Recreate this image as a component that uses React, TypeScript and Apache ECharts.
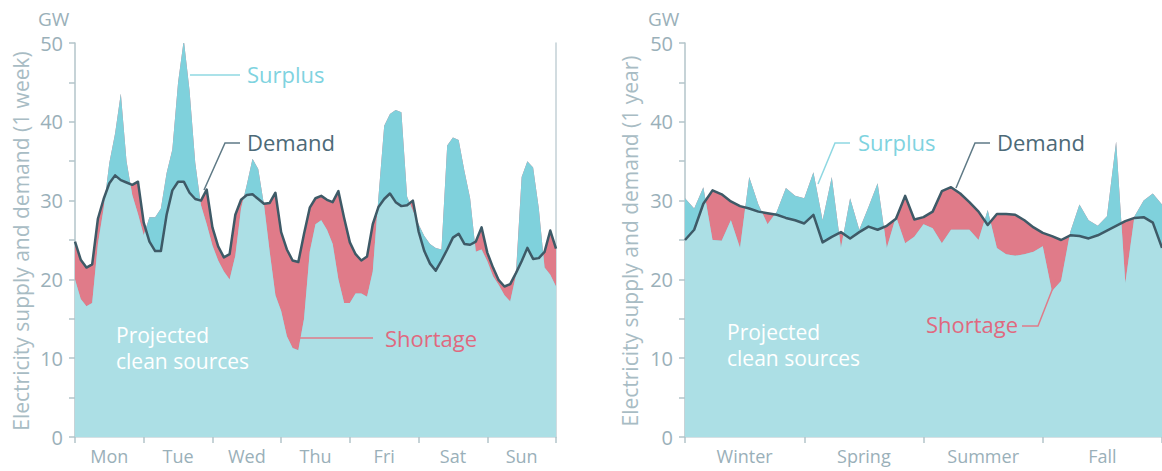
import React, { useEffect, useRef } from "react";
import * as echarts from "echarts";

// ---------- data ----------
const weekDays = ["Mon", "Tue", "Wed", "Thu", "Fri", "Sat", "Sun"];
const seasons = ["Winter", "Spring", "Summer", "Fall"];

// one sample every 2 hours, Mon 00:00 .. Sun 24:00 (85 samples)
const WEEK_STEP_HOURS = 2;
const weekDemand = [
  24.8, 22.5, 21.5, 21.9, 27.7, 30.2, 32.2, 33.2, 32.6, 32.3, 32.0, 32.4,
  27.2, 24.8, 23.6, 23.6, 28.2, 31.3, 32.4, 32.4, 31.0, 30.2, 30.0, 31.4,
  26.6, 24.2, 22.8, 23.2, 28.2, 30.1, 30.7, 30.8, 30.2, 29.6, 29.7, 31.0,
  26.0, 23.8, 22.4, 22.2, 25.8, 29.1, 30.3, 30.6, 30.1, 29.8, 31.2, 27.8,
  24.7, 23.2, 22.4, 22.9, 27.0, 29.2, 30.2, 30.9, 29.8, 29.3, 29.4, 30.0,
  26.1, 23.6, 22.0, 21.1, 22.4, 23.8, 25.3, 25.8, 24.5, 24.4, 24.8, 26.6,
  23.4, 21.5, 19.9, 19.1, 19.4, 20.8, 22.3, 24.0, 22.6, 22.7, 23.5, 26.2,
  23.9,
];
const weekSupply = [
  20.0, 17.5, 16.6, 17.0, 24.5, 29.0, 34.8, 38.5, 43.6, 35.0, 30.7, 28.3,
  25.6, 27.9, 27.9, 29.0, 33.5, 36.5, 45.0, 50.4, 44.0, 34.8, 29.4, 27.0,
  24.3, 22.4, 21.0, 20.0, 23.0, 29.0, 32.0, 35.3, 34.0, 29.5, 23.5, 18.0,
  16.0, 12.8, 11.3, 11.0, 15.0, 23.5, 27.0, 27.5, 26.3, 24.5, 20.0, 17.0,
  17.0, 18.2, 18.2, 17.8, 21.0, 30.5, 39.5, 41.0, 41.5, 41.2, 30.5, 28.7,
  27.0, 25.5, 24.5, 24.0, 23.8, 37.0, 38.0, 37.7, 33.8, 30.3, 23.5, 23.8,
  22.3, 20.4, 19.3, 18.0, 17.2, 20.5, 33.0, 35.0, 34.2, 29.0, 21.5, 20.6,
  19.1,
];

// one sample per week (53 samples)
const YEAR_STEP_WEEKS = 1;
const yearDemand = [
  25.0, 26.3, 29.6, 31.3, 30.8, 29.9, 29.3, 29.0, 28.6, 28.4, 28.2, 27.8, 27.5,
  27.1, 28.2, 24.7, 25.4, 26.0, 25.2, 26.0, 26.7, 26.3, 26.8, 27.7, 30.6, 27.6,
  27.9, 28.6, 31.2, 31.7, 30.9, 29.8, 28.6, 26.9, 28.3, 28.3, 28.2, 27.5, 26.6,
  25.9, 25.5, 25.0, 25.6, 25.5, 25.2, 25.6, 26.2, 26.8, 27.4, 27.8, 27.9, 27.2,
  24.0,
];
const yearSupply = [
  30.3, 29.0, 31.7, 25.0, 24.9, 27.5, 24.0, 33.0, 29.5, 27.0, 28.6, 31.6, 30.6,
  30.3, 33.6, 27.5, 33.0, 24.0, 30.3, 26.3, 29.2, 32.2, 24.0, 28.0, 24.6, 25.4,
  27.0, 26.5, 24.6, 26.3, 26.3, 26.3, 25.0, 28.8, 24.0, 23.2, 23.0, 23.2, 23.5,
  24.2, 18.5, 19.8, 26.0, 29.5, 27.5, 26.8, 28.0, 37.5, 19.5, 28.0, 30.0, 30.9,
  29.5,
];

// ---------- styling ----------
const FONT = '"Open Sans", "Noto Sans", sans-serif';
const C_CLEAN = "#acdfe5";
const C_SURPLUS = "#7fd1dc";
const C_SHORT = "#e07b89";
const C_DEMAND = "#3e5a67";
const C_AXIS_TEXT = "#9ab0b9";
const C_AXIS_LINE = "#b3c4ca";
const C_NAME = "#a8bcc4";

function bands(xs: number[], s: number[], d: number[]) {
  const pts: number[][] = [];
  for (let i = 0; i < xs.length; i++) {
    pts.push([xs[i], s[i], d[i]]);
    if (i < xs.length - 1) {
      const a = s[i] - d[i];
      const b = s[i + 1] - d[i + 1];
      if (a * b < 0) {
        const t = a / (a - b);
        const x = xs[i] + t * (xs[i + 1] - xs[i]);
        const v = s[i] + t * (s[i + 1] - s[i]);
        pts.push([x, v, v]);
      }
    }
  }
  return {
    top: pts.map((p) => [p[0], Math.max(p[1], p[2])]),
    supply: pts.map((p) => [p[0], p[1]]),
    low: pts.map((p) => [p[0], Math.min(p[1], p[2])]),
  };
}

function areaSeries(data: number[][], color: string, xi: number, yi: number) {
  return {
    type: "line",
    xAxisIndex: xi,
    yAxisIndex: yi,
    data,
    symbol: "none",
    showSymbol: false,
    silent: true,
    lineStyle: { width: 0, opacity: 0 },
    areaStyle: { color, opacity: 1 },
  };
}

function chartSeries(step: number, s: number[], d: number[], xi: number, yi: number) {
  const xs = d.map((_, i) => i * step);
  const b = bands(xs, s, d);
  return [
    areaSeries(b.top, C_SHORT, xi, yi),
    areaSeries(b.supply, C_SURPLUS, xi, yi),
    areaSeries(b.low, C_CLEAN, xi, yi),
    {
      type: "line",
      xAxisIndex: xi,
      yAxisIndex: yi,
      data: xs.map((x, i) => [x, d[i]]),
      symbol: "none",
      showSymbol: false,
      silent: true,
      lineStyle: { color: C_DEMAND, width: 2.5, join: "round" },
    },
  ];
}

function valueX(gridIndex: number, max: number, interval: number) {
  return {
    type: "value",
    gridIndex,
    min: 0,
    max,
    interval,
    position: "bottom",
    axisLine: { show: true, lineStyle: { color: "#c9d6db", width: 1.5 } },
    axisTick: { show: true, length: 6, lineStyle: { color: C_AXIS_LINE, width: 1.5 } },
    axisLabel: { show: false },
    splitLine: { show: false },
  };
}

function catX(gridIndex: number, data: string[]) {
  return {
    type: "category",
    gridIndex,
    data,
    position: "bottom",
    boundaryGap: true,
    axisLine: { show: false },
    axisTick: { show: false },
    axisLabel: { color: C_AXIS_TEXT, fontSize: 18, fontFamily: FONT, margin: 10 },
    splitLine: { show: false },
  };
}

function leftY(gridIndex: number) {
  return {
    type: "value",
    gridIndex,
    min: 0,
    max: 50,
    interval: 5,
    position: "left",
    axisLine: { show: true, lineStyle: { color: C_AXIS_LINE, width: 1.5 } },
    axisTick: { show: true, length: 6, lineStyle: { color: C_AXIS_LINE, width: 1.5 } },
    axisLabel: {
      color: C_AXIS_TEXT,
      fontSize: 20,
      fontFamily: FONT,
      margin: 12,
      formatter: (v: number) => (v % 10 === 0 ? String(v) : ""),
    },
    splitLine: { show: false },
  };
}

function text(x: number, y: number, t: string, color: string, size: number, extra: any = {}) {
  return {
    type: "text",
    x,
    y,
    silent: true,
    z: 100,
    ...extra,
    style: {
      text: t,
      fill: color,
      font: `${size}px ${FONT}`,
      textAlign: extra.align || "left",
      align: extra.align || "left",
      textVerticalAlign: "middle",
      verticalAlign: "middle",
    },
  };
}

function leader(points: number[][], color: string) {
  return {
    type: "polyline",
    silent: true,
    z: 100,
    shape: { points },
    style: { stroke: color, lineWidth: 1.5, fill: "none" },
  };
}

export default function App() {
  const ref = useRef<HTMLDivElement>(null);
  useEffect(() => {
    if (!ref.current) return;
    const chart = echarts.init(ref.current, undefined, { renderer: "svg" });
    const option: any = {
      animation: false,
      backgroundColor: "#ffffff",
      grid: [
        { left: 75, top: 43, width: 481, height: 394 },
        { left: 685, top: 43, width: 480, height: 394 },
      ],
      xAxis: [
        valueX(0, 168, 24),
        catX(0, weekDays),
        valueX(1, 52, 13),
        catX(1, seasons),
      ],
      yAxis: [
        leftY(0),
        {
          type: "value",
          gridIndex: 0,
          min: 0,
          max: 50,
          position: "right",
          axisLine: { show: true, lineStyle: { color: "#c3d1d6", width: 1.5 } },
          axisTick: { show: false },
          axisLabel: { show: false },
          splitLine: { show: false },
        },
        leftY(1),
      ],
      series: [
        ...chartSeries(WEEK_STEP_HOURS, weekSupply, weekDemand, 0, 0),
        ...chartSeries(YEAR_STEP_WEEKS, yearSupply, yearDemand, 2, 2),
      ],
      graphic: [
        text(38, 19, "GW", C_AXIS_TEXT, 19),
        text(648, 19, "GW", C_AXIS_TEXT, 19),
        text(21, 241, "Electricity supply and demand (1 week)", C_NAME, 21, {
          rotation: Math.PI / 2,
          align: "center",
        }),
        text(630, 241, "Electricity supply and demand (1 year)", C_NAME, 21, {
          rotation: Math.PI / 2,
          align: "center",
        }),
        // left annotations
        leader([[190, 75], [240, 75]], "#8fd8e2"),
        text(247, 74, "Surplus", "#7fd3df", 22),
        leader([[204, 190], [225, 143], [240, 143]], "#5f7a86"),
        text(247, 142, "Demand", "#4c6a78", 22),
        leader([[298, 338], [373, 338]], C_SHORT),
        text(385, 338, "Shortage", "#e0697f", 22),
        text(116, 335, "Projected", "#ffffff", 21),
        text(116, 361, "clean sources", "#ffffff", 21),
        // right annotations
        leader([[818, 184], [835, 143], [850, 143]], "#8fd8e2"),
        text(858, 142, "Surplus", "#7fd3df", 22),
        leader([[956, 188], [975, 143], [990, 143]], "#5f7a86"),
        text(997, 142, "Demand", "#4c6a78", 22),
        leader([[1022, 326], [1038, 326], [1056, 280]], C_SHORT),
        text(926, 324, "Shortage", "#e0697f", 22),
        text(727, 332, "Projected", "#ffffff", 21),
        text(727, 358, "clean sources", "#ffffff", 21),
      ],
    };
    chart.setOption(option);
    return () => chart.dispose();
  }, []);
  return (
    <div
      ref={ref}
      style={{ position: "absolute", left: 0, top: 0, width: 1162, height: 471, background: "#fff" }}
    />
  );
}
